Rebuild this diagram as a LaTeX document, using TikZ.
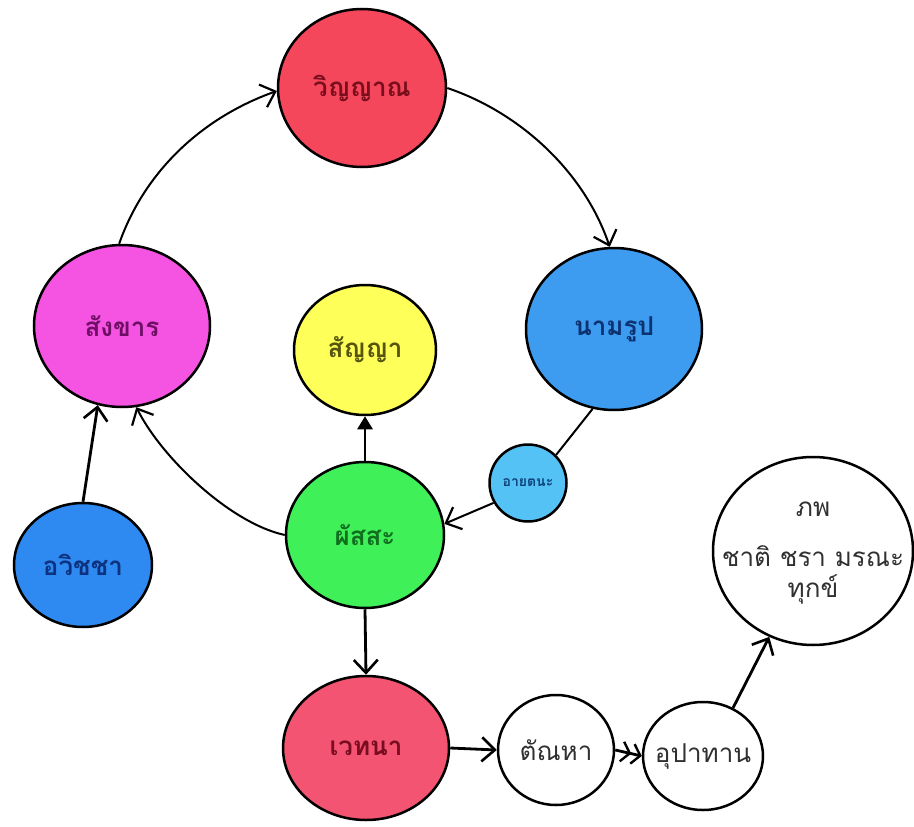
\documentclass[tikz,border=0pt]{standalone}
\usepackage{fontspec}
\newfontfamily\thaifont[Script=Thai]{Loma}
\usetikzlibrary{shapes.geometric,arrows.meta}
\definecolor{cVin}{HTML}{F5475C}
\definecolor{tVin}{HTML}{7A0E1C}
\definecolor{cSank}{HTML}{F553E2}
\definecolor{tSank}{HTML}{6E0E64}
\definecolor{cSanya}{HTML}{FFFF5A}
\definecolor{tSanya}{HTML}{55550E}
\definecolor{cNam}{HTML}{3D9BF0}
\definecolor{tNam}{HTML}{0C3270}
\definecolor{cAya}{HTML}{55C2F5}
\definecolor{tAya}{HTML}{0C4278}
\definecolor{cPha}{HTML}{40F059}
\definecolor{tPha}{HTML}{106E1E}
\definecolor{cAvi}{HTML}{2E8AF0}
\definecolor{tAvi}{HTML}{0C3280}
\definecolor{cVed}{HTML}{F25472}
\definecolor{tVed}{HTML}{7A0C22}
\definecolor{tGray}{HTML}{303030}
\tikzset{
  bub/.style={ellipse, draw=black, line width=2.5pt, inner sep=0pt,
    font=\thaifont\bfseries\fontsize{26}{30}\selectfont,
    execute at begin node={\hbox to 0pt\bgroup\hss},
    execute at end node={\hss\egroup}},
  plain/.style={font=\thaifont\fontsize{26}{30}\selectfont},
  arcconn/.style={line width=2pt, -{Straight Barb[length=13pt,width=24pt,line width=2.2pt]}},
  conn/.style={line width=2.8pt, -{Straight Barb[length=13pt,width=24pt,line width=2.6pt]}},
}
\begin{document}
\begin{tikzpicture}[x=1pt,y=-1pt]
\useasboundingbox (0,0) rectangle (914,827);
\fill[white] (0,0) rectangle (914,827);

\node[bub, fill=cVin, text=tVin, minimum width=168pt, minimum height=158pt] (vin) at (362,88) {วิญญาณ};
\node[bub, fill=cSank, text=tSank, minimum width=176pt, minimum height=162pt] (sank) at (122,326) {สังขาร};
\node[bub, fill=cSanya, text=tSanya, minimum width=142pt, minimum height=130pt] (sanya) at (365,350) {สัญญา};
\node[bub, fill=cNam, text=tNam, minimum width=176pt, minimum height=162pt] (nam) at (614,329) {นามรูป};
\node[bub, fill=cAya, text=tAya, minimum width=77pt, minimum height=77pt, font=\thaifont\bfseries\fontsize{14}{16}\selectfont] (aya) at (528,483) {อายตนะ};
\node[bub, fill=cPha, text=tPha, minimum width=158pt, minimum height=146pt] (pha) at (365,535) {ผัสสะ};
\node[bub, fill=cAvi, text=tAvi, minimum width=138pt, minimum height=124pt] (avi) at (83,565) {อวิชชา};
\node[bub, fill=cVed, text=tVed, minimum width=166pt, minimum height=144pt] (ved) at (366,748) {เวทนา};
\node[bub, plain, fill=white, text=tGray, minimum width=116pt, minimum height=110pt] (tan) at (556,750) {ตัณหา};
\node[bub, plain, fill=white, text=tGray, minimum width=120pt, minimum height=108pt] (upa) at (703,756) {อุปาทาน};
\node[bub, plain, fill=white, text=tGray, minimum width=200pt, minimum height=188pt] (bha) at (813,551)
  {\begin{tabular}{@{}c@{}}ภพ\\[20pt]ชาติ ชรา มรณะ\\ทุกข์\end{tabular}};

\draw[arcconn] (sank.92) .. controls +(26,-74) and +(-73,26) .. (vin.182);
\draw[arcconn] (vin.east) .. controls +(74,25) and +(-25,-74) .. (nam.93);
\draw[line width=2pt] (nam.-105) -- (aya.45);
\draw[arcconn] (aya.210) -- (pha.8);
\draw[arcconn] (pha.180) .. controls +(-55,-12) and +(25,50) .. (sank.-80);
\draw[conn] (avi.north) -- (sank.-107);
\draw[line width=2.8pt, -{Triangle[length=13pt,width=15pt]}] (pha.north) -- (sanya.south);
\draw[conn] (pha.south) -- (ved.north);
\draw[conn] (ved.east) -- (tan.west);
\draw[line width=2.8pt, -{Straight Barb[length=8pt,width=20pt,line width=2.4pt]Straight Barb[length=8pt,width=20pt,line width=2.4pt]}] (tan.east) -- (upa.west);
\draw[conn] (upa.58) -- (bha.-117);
\end{tikzpicture}
\end{document}
